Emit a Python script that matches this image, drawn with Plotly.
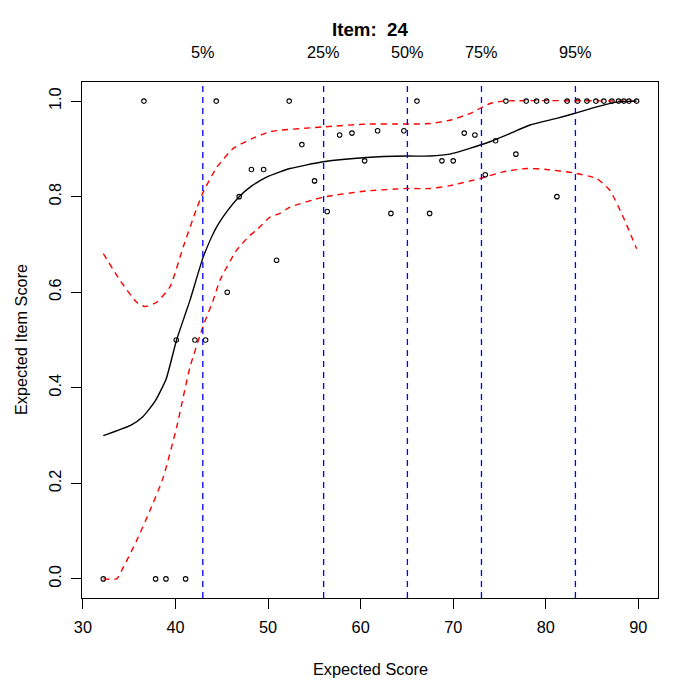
import plotly.graph_objects as go

# observed item scores at each expected-score level
obs_x = [32.2, 36.59, 37.85, 38.97, 40.08, 41.09, 42.1, 43.25, 44.4, 45.59,
         46.88, 48.2, 49.52, 50.92, 52.28, 53.65, 55.02, 56.39, 57.73, 59.06,
         60.43, 61.83, 63.27, 64.67, 66.08, 67.45, 68.78, 70.0, 71.19, 72.34,
         73.46, 74.58, 75.69, 76.77, 77.88, 79.0, 80.09, 81.2, 82.31, 83.43,
         84.44, 85.41, 86.27, 87.14, 87.86, 88.43, 88.98, 89.81]
obs_y = [0.0, 1.0, 0.0, 0.0, 0.5, 0.0, 0.5, 0.5, 1.0, 0.6,
         0.8, 0.857, 0.857, 0.667, 1.0, 0.909, 0.833, 0.769, 0.929, 0.933,
         0.875, 0.938, 0.765, 0.938, 1.0, 0.765, 0.875, 0.875, 0.933, 0.929,
         0.846, 0.917, 1.0, 0.889, 1.0, 1.0, 1.0, 0.8, 1.0, 1.0,
         1.0, 1.0, 1.0, 1.0, 1.0, 1.0, 1.0, 1.0]

# smoothed fit
fit_x = [32.2, 35.2, 36.5, 37.8, 39.0, 40.1, 41.56, 43.0, 44.26, 45.52, 46.88,
         48.2, 49.84, 51.28, 52.36, 55.96, 60.64, 64.96, 67.48, 69.64, 71.8,
         73.96, 76.12, 78.28, 81.17, 83.07, 85.49, 87.64, 89.81]
fit_y = [0.300, 0.322, 0.340, 0.372, 0.419, 0.499, 0.583, 0.674, 0.730, 0.768, 0.800,
         0.822, 0.841, 0.852, 0.859, 0.873, 0.882, 0.885, 0.885, 0.889, 0.901,
         0.915, 0.932, 0.950, 0.964, 0.974, 0.988, 0.998, 1.0]

# confidence band
upper_x = [32.2, 34.0, 35.8, 36.7, 37.96, 39.4, 40.84, 42.28, 43.0, 44.44, 46.24,
           48.2, 50.2, 51.28, 55.96, 60.64, 64.96, 67.48, 69.64, 71.8, 73.96,
           75.4, 89.81]
upper_y = [0.681, 0.625, 0.579, 0.570, 0.579, 0.611, 0.695, 0.775, 0.810, 0.861, 0.901,
           0.921, 0.936, 0.939, 0.946, 0.952, 0.952, 0.953, 0.960, 0.974, 0.995,
           1.0, 1.0]
lower_x = [32.2, 33.64, 34.36, 35.8, 37.24, 38.67, 40.12, 41.56, 43.0, 44.07, 44.8,
           46.6, 48.04, 48.76, 50.2, 51.28, 52.36, 55.96, 60.64, 64.96, 67.48,
           69.64, 72.88, 75.4, 77.92, 80.09, 82.96, 85.49, 86.93, 88.37, 89.81]
lower_y = [0.0, 0.0, 0.024, 0.080, 0.143, 0.212, 0.317, 0.443, 0.530, 0.583, 0.625,
           0.688, 0.719, 0.730, 0.757, 0.765, 0.778, 0.799, 0.812, 0.817, 0.817,
           0.823, 0.838, 0.852, 0.859, 0.857, 0.850, 0.838, 0.813, 0.757, 0.691]

quantile_x = [42.95, 56.0, 65.05, 73.05, 83.2]
quantile_labels = ['5%', '25%', '50%', '75%', '95%']

x_ticks = [30, 40, 50, 60, 70, 80, 90]
y_ticks = [0.0, 0.2, 0.4, 0.6, 0.8, 1.0]

FONT = 'Liberation Sans'
TXT = 16.3

fig = go.Figure()

fig.add_trace(go.Scatter(x=upper_x, y=upper_y, mode='lines',
                         line=dict(color='red', width=1.4, dash='6px,5px', shape='spline', smoothing=0.5)))
fig.add_trace(go.Scatter(x=lower_x, y=lower_y, mode='lines',
                         line=dict(color='red', width=1.4, dash='6px,5px', shape='spline', smoothing=0.5)))
fig.add_trace(go.Scatter(x=fit_x, y=fit_y, mode='lines',
                         line=dict(color='black', width=1.4, shape='spline', smoothing=0.5)))
fig.add_trace(go.Scatter(x=obs_x, y=obs_y, mode='markers',
                         marker=dict(symbol='circle-open', size=4.5, color='black', line=dict(width=1.1))))

for qx, lab in zip(quantile_x, quantile_labels):
    fig.add_vline(x=qx, line=dict(color='blue', width=1.3, dash='6px,5px'))
    fig.add_annotation(x=qx, xref='x', y=1, yref='paper', yshift=30, yanchor='middle',
                       text=lab, showarrow=False, font=dict(size=TXT, color='black'))

fig.add_annotation(x=0.5, xref='paper', y=1, yref='paper', yshift=53, yanchor='middle',
                   text='<b>Item:\u00a0 24</b>', showarrow=False, font=dict(size=18.7, color='black'))
fig.add_annotation(x=0.5, xref='paper', y=0, yref='paper', yshift=-71, yanchor='middle',
                   text='Expected Score', showarrow=False, font=dict(size=TXT, color='black'))
fig.add_annotation(x=0, xref='paper', y=0.5, yref='paper', xshift=-61, xanchor='center',
                   text='Expected Item Score', textangle=-90, showarrow=False,
                   font=dict(size=TXT, color='black'))

axis_style = dict(showline=True, mirror=True, linecolor='black', linewidth=1.3,
                  ticks='outside', ticklen=10, tickwidth=1.2, tickcolor='black',
                  showgrid=False, zeroline=False, tickfont=dict(size=TXT, color='black'))

# page adds an 8px body margin, so margins are shifted to compensate
fig.update_layout(
    width=700, height=700,
    margin=dict(l=74, r=50, t=74, b=110),
    paper_bgcolor='white', plot_bgcolor='white',
    showlegend=False,
    font=dict(family=FONT, color='black'),
    xaxis=dict(range=[29.9, 92.12], tickvals=x_ticks, ticklabelstandoff=4, **axis_style),
    yaxis=dict(range=[-0.04, 1.04], tickvals=y_ticks, tickformat='.1f', tickangle=-90,
               ticklabelstandoff=3, **axis_style),
)

fig.write_html("out.html")
